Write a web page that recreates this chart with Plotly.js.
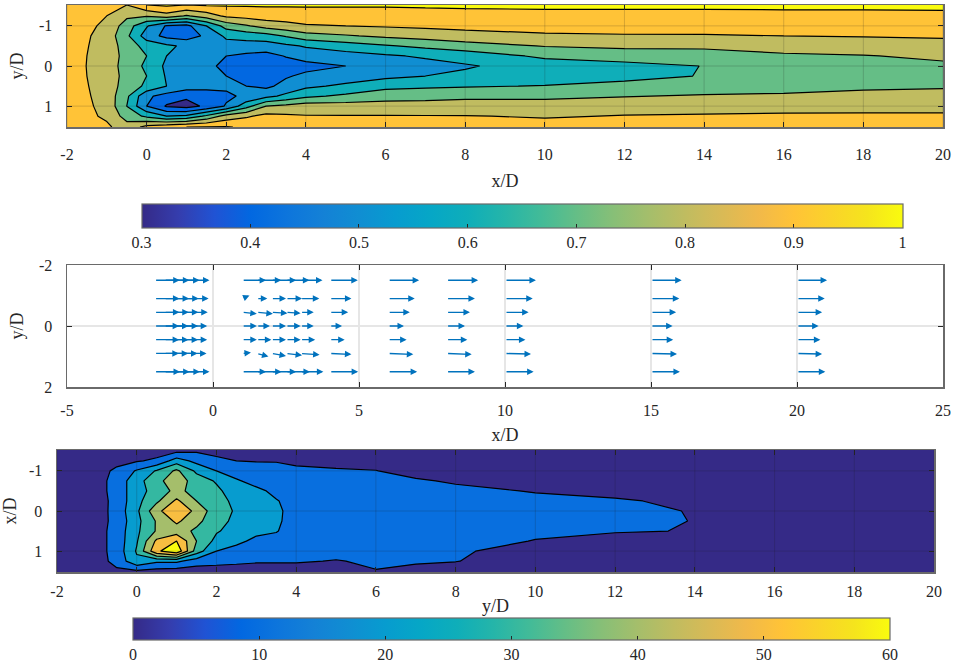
<!DOCTYPE html>
<html><head><meta charset="utf-8">
<script src="https://cdn.plot.ly/plotly-3.0.1.min.js"></script>
<style>html,body{margin:0;padding:0;background:#fff;}#chart{width:957px;height:669px;}</style>
</head><body><div id="chart"></div>
<script>
// ---- grid of the measurement planes (x/D, y/D) ----
const gridX = [-2,-1.5,-1,-0.5,0,0.5,1,1.5,2,2.5,3,3.5,4,5,6,7,8,10,12,14,16,18,20];
const gridY = [-1.52,-1.25,-1,-0.75,-0.5,-0.25,0,0.25,0.5,0.75,1,1.25,1.52];

// ---- mean streamwise velocity u/U (top panel), one row per gridY ----
const velocityZ = [
 [0.96,0.95,0.93,0.9,1.0,1.015,1.0,1.01,1.01,1.01,1.01,1.01,1.01,1.01,1.01,1.015,1.02,1.02,1.02,1.02,1.02,1.02,1.02],
 [0.955,0.93,0.9,0.82,0.81,0.86,0.79,0.85,0.92,0.935,0.95,0.955,0.96,0.96,0.96,0.96,0.96,0.97,0.97,0.97,0.975,0.975,0.98],
 [0.95,0.92,0.88,0.75,0.61,0.49,0.47,0.6,0.74,0.79,0.84,0.865,0.89,0.9,0.91,0.92,0.93,0.925,0.925,0.93,0.935,0.94,0.945],
 [0.95,0.91,0.86,0.72,0.55,0.47,0.45,0.52,0.62,0.64,0.66,0.71,0.76,0.79,0.82,0.84,0.86,0.89,0.895,0.895,0.9,0.905,0.91],
 [0.95,0.905,0.85,0.76,0.66,0.62,0.58,0.59,0.56,0.555,0.55,0.58,0.61,0.65,0.69,0.725,0.76,0.805,0.82,0.82,0.84,0.85,0.87],
 [0.95,0.9,0.85,0.77,0.7,0.6,0.56,0.55,0.5,0.48,0.47,0.505,0.54,0.56,0.585,0.615,0.64,0.72,0.745,0.755,0.785,0.795,0.82],
 [0.95,0.898,0.85,0.76,0.68,0.58,0.55,0.53,0.47,0.455,0.45,0.46,0.47,0.5,0.53,0.56,0.59,0.645,0.67,0.702,0.745,0.76,0.78],
 [0.95,0.9,0.85,0.77,0.7,0.59,0.56,0.54,0.5,0.48,0.46,0.49,0.52,0.545,0.575,0.6,0.62,0.635,0.67,0.705,0.73,0.745,0.765],
 [0.95,0.905,0.85,0.76,0.68,0.6,0.55,0.53,0.52,0.5,0.48,0.53,0.58,0.62,0.67,0.68,0.69,0.705,0.73,0.74,0.76,0.78,0.79],
 [0.95,0.91,0.86,0.72,0.52,0.46,0.42,0.45,0.48,0.52,0.57,0.625,0.68,0.72,0.76,0.775,0.79,0.785,0.795,0.81,0.815,0.83,0.83],
 [0.95,0.915,0.87,0.7,0.5,0.39,0.36,0.42,0.51,0.66,0.8,0.825,0.85,0.845,0.84,0.83,0.82,0.83,0.855,0.86,0.865,0.87,0.87],
 [0.955,0.925,0.88,0.76,0.68,0.6,0.62,0.72,0.84,0.885,0.93,0.917,0.905,0.905,0.905,0.905,0.905,0.89,0.905,0.91,0.915,0.915,0.915],
 [0.96,0.94,0.92,0.84,0.93,0.97,1.0,1.005,1.005,0.99,0.985,0.98,0.975,0.965,0.95,0.95,0.95,0.945,0.95,0.95,0.95,0.95,0.95]
];

// ---- turbulence quantity (bottom panel), one row per gridY ----
const turbulenceZ = [
 [3,3,4,5,6,5,6,8,7,6,6,6,6,5,5,4,4,3,3,3,3,3,3],
 [3,3,5,7,9,12,25,17,12,10,9.5,9.5,8,7,7,5,5,4,3,3,3,3,3],
 [3,4,6,12,21,31,42,28,20,16,14,13,12,11,10.2,7,6,5,4,3,3,3,3],
 [3,4,6,14,26,37,46,35,29,21,17,15,14,13,13,11,9,7,5,4,3,3,3],
 [3,4,6,14,26,34,43,36,32,25,22,18,16,15,14,13,12,9.5,8,5,4,3,3],
 [3,4,6,13,27,38,52,40,33,28,24,20.5,17,16,15,14,13.5,12,10.8,8.5,5,4,3],
 [3,4,5,14,28,47,59,47,34,29,25,21,18,16,15,14.5,14,13,12,9.6,6,4,3],
 [3,4,6,13,27,41,52,43,33,28,24,21,17.5,16,15,14,13.5,12,11,9.9,6,4,3],
 [3,4,6,14,28,41,45,38,31,26,22,20.5,16,15,14,13.5,13,11,10.4,9.8,6,4,3],
 [3,4,6,14,29,52,60,40,27,22,18,17,15,14,13,13,12,9.8,8,7,5,4,3],
 [3,4,6,14,31,58,68,35,20,17,14,14,14,13,12.5,12,11,7,6,4,4,3,3],
 [3,4,6,13,28,22,22,15,13,12,11,11,11,9.5,11.5,11.5,10.3,5,4,3,3,3,3],
 [3,3,5,8,7,5,4,4,5,5,5,5,5,4,9.5,6,5,4,3,3,3,3,3]
];

// ---- velocity vectors (middle panel) ----
const quiverX = [-2,-1.67,-1.33,-1,1,1.5,2,2.5,3,4,6,8,10,15,20];
const quiverY = [-1.5,-0.9,-0.45,0,0.45,0.9,1.5];
const quiverU = [
 [0.86,0.86,0.87,0.88,0.82,0.84,0.85,0.8,0.75,0.96,1.06,1.08,1.06,1.05,1.03],
 [0.85,0.85,0.84,0.85,0.25,0.36,0.5,0.55,0.64,0.74,0.91,0.97,0.95,0.97,0.95],
 [0.85,0.84,0.83,0.82,0.5,0.55,0.55,0.5,0.45,0.63,0.74,0.8,0.81,0.86,0.86],
 [0.84,0.83,0.82,0.8,0.5,0.45,0.5,0.5,0.45,0.42,0.54,0.63,0.63,0.74,0.74],
 [0.84,0.83,0.82,0.8,0.5,0.5,0.5,0.5,0.5,0.51,0.63,0.71,0.7,0.76,0.8],
 [0.83,0.82,0.8,0.78,0.3,0.4,0.5,0.55,0.65,0.74,0.86,0.86,0.89,0.89,0.86],
 [0.87,0.87,0.88,0.88,0.82,0.85,0.85,0.82,0.78,0.97,0.99,0.97,0.98,0.99,0.97]
];
const quiverV = [
 [0,0,0,0,0,0,0,0,0,0,0,0,0,0,0],
 [0,0,0,0,-0.1,0,0,0,0,0,0,0,0,0,0],
 [0,0,0,0,0.05,0.05,0.03,0.03,0,0,0,0,0,0,0],
 [0,0,0,0,0,0,0,0,0,0,0,0,0,0,0],
 [0,0,0,0,0,0,0,0,0,0,0,0,0,0,0],
 [0,0,0,0,-0.03,0.1,0.08,0.06,0.04,0.03,0.03,0.03,0.02,0.02,0.02],
 [0,0,0,0,0,0,0,0,0,0,0,0,0,0,0]
];

// ---- ticks ----
const contourXTicks = [-2,0,2,4,6,8,10,12,14,16,18,20];
const contourXLabels = ['-2','0','2','4','6','8','10','12','14','16','18','20'];
const contourYTicks = [-1,0,1];
const contourYLabels = ['-1','0','1'];
const vecXTicks = [-5,0,5,10,15,20,25];
const vecXLabels = ['-5','0','5','10','15','20','25'];
const vecYTicks = [-2,0,2];
const vecYLabels = ['-2','0','2'];
const velBarTicks = [0.3,0.4,0.5,0.6,0.7,0.8,0.9,1];
const velBarLabels = ['0.3','0.4','0.5','0.6','0.7','0.8','0.9','1'];
const turbBarTicks = [0,10,20,30,40,50,60];
const turbBarLabels = ['0','10','20','30','40','50','60'];

// parula colour map
const parulaRGB = ['53,42,135','53,61,173','32,83,212','2,104,225','13,117,220','20,129,214','16,142,210','7,156,207','6,167,198','15,174,185','37,181,169','66,187,152','101,190,134','135,191,119','165,190,107','192,188,96','217,186,86','241,185,74','255,195,55','250,211,42','245,228,29','249,251,14'];
const parula = parulaRGB.map((c,i)=>[i/(parulaRGB.length-1),'rgb('+c+')']);

const FONT = 'Liberation Serif, Times New Roman, serif';
const TXT = '#262626';
const LINE = '#6a6a6a';

const traces = [
 {type:'heatmap', x:gridX, y:gridY, z:velocityZ, xaxis:'x', yaxis:'y', colorscale:parula, zmin:0.3, zmax:1, opacity:0, hoverinfo:'skip',
  showscale:true, colorbar:{orientation:'h', x:0.5455, xanchor:'center', y:1-204/669, yanchor:'top', len:761/957, lenmode:'fraction',
   thickness:24, thicknessmode:'pixels', xpad:0, ypad:0, outlinecolor:LINE, outlinewidth:1.2, ticks:'inside', ticklen:4, tickcolor:TXT,
   tickvals:velBarTicks, ticktext:velBarLabels, tickfont:{family:FONT,size:16,color:TXT}}},
 {type:'contour', x:gridX, y:gridY, z:velocityZ, xaxis:'x', yaxis:'y', colorscale:parula, showscale:false, hoverinfo:'skip',
  contours:{start:0.4, end:1.0, size:0.1, coloring:'fill'}, line:{color:'#000', width:1.2, smoothing:0}},
 {type:'heatmap', x:gridX, y:gridY, z:turbulenceZ, xaxis:'x3', yaxis:'y3', colorscale:parula, zmin:0, zmax:60, opacity:0, hoverinfo:'skip',
  showscale:true, colorbar:{orientation:'h', x:511.5/957, xanchor:'center', y:1-618/669, yanchor:'top', len:757/957, lenmode:'fraction',
   thickness:22, thicknessmode:'pixels', xpad:0, ypad:0, outlinecolor:LINE, outlinewidth:1.2, ticks:'inside', ticklen:4, tickcolor:TXT,
   tickvals:turbBarTicks, ticktext:turbBarLabels, tickfont:{family:FONT,size:16,color:TXT}}},
 {type:'contour', x:gridX, y:gridY, z:turbulenceZ, xaxis:'x3', yaxis:'y3', colorscale:parula, showscale:false, hoverinfo:'skip',
  contours:{start:10, end:60, size:10, coloring:'fill'}, line:{color:'#000', width:1.2, smoothing:0}},
 {type:'scatter', x:[], y:[], xaxis:'x2', yaxis:'y2', showlegend:false, hoverinfo:'skip'}
];

const arrowScale = 1;
const annotations = [];
quiverY.forEach((yv,r)=>quiverX.forEach((xv,c)=>{
  annotations.push({xref:'x2', yref:'y2', axref:'x2', ayref:'y2',
    x:xv+quiverU[r][c]*arrowScale, y:yv+quiverV[r][c]*arrowScale, ax:xv, ay:yv,
    text:'', showarrow:true, arrowhead:2, arrowsize:1.0, arrowwidth:1.3, arrowcolor:'#0072BD', standoff:0, startstandoff:0});
}));

const shapes = [];
function gridOver(xa, ya, xt, yt){
  xt.forEach(v=>shapes.push({type:'line', layer:'above', xref:xa, yref:ya+' domain', x0:v, x1:v, y0:0, y1:1, line:{color:'rgba(30,30,30,0.18)', width:1}}));
  yt.forEach(v=>shapes.push({type:'line', layer:'above', xref:xa+' domain', yref:ya, x0:0, x1:1, y0:v, y1:v, line:{color:'rgba(30,30,30,0.18)', width:1}}));
}
gridOver('x','y',contourXTicks,contourYTicks);
gridOver('x3','y3',contourXTicks,contourYTicks);

function ax(o){
  return Object.assign({ticks:'inside', ticklen:5, tickwidth:1, tickcolor:TXT, mirror:'ticks', showline:true, linecolor:LINE, linewidth:1.5,
    zeroline:false, showgrid:false, tickmode:'array', tickfont:{family:FONT,size:16,color:TXT}, fixedrange:true}, o);
}
const tfont = {family:FONT, size:18, color:TXT};

const layout = {
  width:957, height:669, margin:{l:0,r:0,t:0,b:0}, paper_bgcolor:'#fff', plot_bgcolor:'#fff', showlegend:false,
  font:{family:FONT, size:16, color:TXT},
  xaxis: ax({domain:[67/957,943/957], range:[-2,20], anchor:'y', tickvals:contourXTicks, ticktext:contourXLabels, ticklabelstandoff:12,
    title:{text:'x/D', font:tfont, standoff:12}}),
  yaxis: ax({domain:[1-127/669,1-5/669], range:[1.52,-1.52], anchor:'x', tickvals:contourYTicks, ticktext:contourYLabels, ticklabelstandoff:10,
    title:{text:'y/D', font:tfont, standoff:10}}),
  xaxis2: ax({domain:[67/957,943/957], range:[-5,25], anchor:'y2', tickvals:vecXTicks, ticktext:vecXLabels, ticklabelstandoff:8,
    showgrid:true, gridcolor:'#e6e6e6', gridwidth:1.5, title:{text:'x/D', font:tfont, standoff:10}}),
  yaxis2: ax({domain:[1-387/669,1-265/669], range:[2,-2], anchor:'x2', tickvals:vecYTicks, ticktext:vecYLabels, ticklabelstandoff:10,
    showgrid:true, gridcolor:'#e6e6e6', gridwidth:1.5, title:{text:'y/D', font:tfont, standoff:10}}),
  xaxis3: ax({domain:[57/957,934/957], range:[-2,20], anchor:'y3', tickvals:contourXTicks, ticktext:contourXLabels, ticklabelstandoff:4,
    title:{text:'y/D', font:tfont, standoff:0}}),
  yaxis3: ax({domain:[1-572/669,1-450/669], range:[1.52,-1.52], anchor:'x3', tickvals:contourYTicks, ticktext:contourYLabels, ticklabelstandoff:10,
    title:{text:'x/D', font:tfont, standoff:10}}),
  annotations: annotations,
  shapes: shapes
};

Plotly.newPlot('chart', traces, layout, {staticPlot:true, displayModeBar:false});
</script>
</body></html>
